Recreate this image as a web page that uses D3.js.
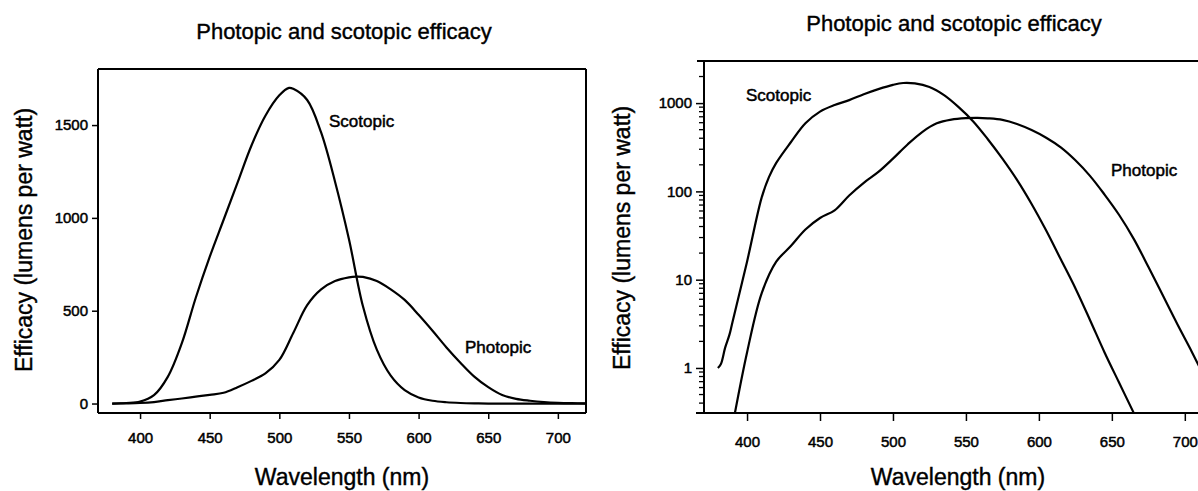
<!DOCTYPE html>
<html>
<head>
<meta charset="utf-8">
<script src="https://cdnjs.cloudflare.com/ajax/libs/d3/7.8.5/d3.min.js"></script>
<style>
  html, body { margin: 0; padding: 0; background: #fff; }
  svg { display: block; font-family: "Liberation Sans", Arial, sans-serif; }
</style>
</head>
<body>
<svg id="chart" width="1198" height="491"></svg>
<script>
// [wavelength nm, efficacy lm/W]
var scotopicLinear = [[380,0],[390,3],[400,10],[410,45],[420,145],[430,325],[440,570],[450,790],
    [460,990],[470,1190],[480,1390],[490,1550],[500,1660],[507,1700],[510,1695],[520,1635],
    [530,1460],[540,1195],[550,885],[560,525],[570,290],[580,150],[590,72],[600,33],[610,15],
    [620,7],[630,3],[640,1],[650,0],[700,0],[720,0]];
var photopicLinear = [[380,0],[390,1],[400,3],[410,8],[420,18],[430,27],[440,37],[450,47],
    [460,58],[470,88],[480,122],[490,162],[500,235],[510,380],[520,530],[530,615],[540,660],
    [550,680],[555,684],[560,682],[570,660],[580,615],[590,558],[600,478],[610,392],[620,302],
    [630,220],[640,145],[650,88],[660,46],[670,25],[680,15],[690,8],[700,4],[710,2],[720,1]];

// same two curves
var scotopicLog = [[380,1.0],[382,1.1],[385,1.7],[388,2.4],[390,3.3],[400,16],[410,85],[415,145],
    [420,210],[430,360],[440,590],[450,800],[460,950],[470,1080],[480,1260],[490,1440],[500,1610],
    [507,1690],[515,1670],[525,1520],[535,1230],[545,900],[555,620],[565,390],[575,235],[585,135],
    [595,72],[605,36],[615,17],[625,8],[635,3.5],[645,1.5],[655,0.68],[665,0.31],[670,0.21]];
var photopicLog = [[390,0.22],[400,1.5],[410,7],[420,16],[430,24],[440,37],[450,50],[460,61],
    [470,90],[480,125],[490,166],[500,235],[510,340],[520,470],[530,590],[540,650],[550,675],
    [558,680],[565,672],[575,645],[585,580],[595,495],[605,405],[615,315],[625,225],[635,150],
    [645,92],[655,54],[665,29],[675,14],[685,6.6],[695,3.1],[705,1.5],[715,0.7]];

var xTicks = [400, 450, 500, 550, 600, 650, 700];
var linTicks = [0, 500, 1000, 1500];
var logTicks = [1, 10, 100, 1000];
var titleText = 'Photopic and scotopic efficacy';
var xTitle = 'Wavelength (nm)';
var yTitle = 'Efficacy (lumens per watt)';

var svg = d3.select('#chart');

function drawPanel(p) {
    var g = svg.append('g');
    var x = d3.scaleLinear().domain(p.xDomain).range([p.left, p.right]);
    var y = p.log
        ? d3.scaleLog().domain(p.yDomain).range([p.bottom, p.top])
        : d3.scaleLinear().domain(p.yDomain).range([p.bottom, p.top]);

    var clipId = 'clip' + p.id;
    svg.append('clipPath').attr('id', clipId)
        .append('rect')
        .attr('x', p.left).attr('y', p.top)
        .attr('width', p.right - p.left).attr('height', p.bottom - p.top);

    var line = d3.line()
        .x(function(d) { return x(d[0]); })
        .y(function(d) { return y(d[1]); })
        .curve(d3.curveCatmullRom.alpha(0.5));

    g.append('g').attr('clip-path', 'url(#' + clipId + ')')
        .selectAll('path')
        .data(p.series)
        .enter().append('path')
        .attr('d', function(d) { return line(d); })
        .attr('fill', 'none')
        .attr('stroke', '#000')
        .attr('stroke-width', 2.2);

    var xAxis = g.append('g')
        .attr('transform', 'translate(0,' + p.bottom + ')')
        .call(d3.axisBottom(x).tickValues(xTicks).tickSize(p.xTick).tickSizeOuter(0).tickPadding(p.xPad));
    var yAxis = g.append('g')
        .attr('transform', 'translate(' + p.left + ',0)')
        .call(d3.axisLeft(y).tickValues(p.yTicks).tickSize(p.yTick).tickSizeOuter(0).tickPadding(4)
            .tickFormat(d3.format('d')));

    if (p.log) {
        // minor ticks 2..9 of every decade
        var minor = [];
        [0.1, 1, 10, 100, 1000].forEach(function(dec) {
            for (var k = 2; k <= 9; k++) {
                var v = dec * k;
                if (v >= p.yDomain[0] && v <= p.yDomain[1]) minor.push(v);
            }
        });
        g.append('g').selectAll('line')
            .data(minor)
            .enter().append('line')
            .attr('x1', p.left - 5).attr('x2', p.left)
            .attr('y1', function(d) { return y(d); })
            .attr('y2', function(d) { return y(d); })
            .attr('stroke', '#000')
            .attr('stroke-width', 1.3);
    }

    [xAxis, yAxis].forEach(function(a) {
        a.select('.domain').remove();
        a.selectAll('line').attr('stroke', '#000').attr('stroke-width', 1.5);
        a.selectAll('text').attr('fill', '#000').style('font-size', '15px')
            .style('font-family', '"Liberation Sans", Arial, sans-serif')
            .attr('stroke', '#000').attr('stroke-width', 0.5);
    });

    p.frame.forEach(function(f) {
        g.append('line')
            .attr('x1', f[0]).attr('y1', f[1]).attr('x2', f[2]).attr('y2', f[3])
            .attr('stroke', '#000').attr('stroke-width', 2);
    });

    g.append('text')
        .attr('x', p.titleX).attr('y', p.titleY)
        .attr('text-anchor', 'middle')
        .attr('stroke', '#000').attr('stroke-width', 0.4)
        .style('font-size', '22px')
        .text(titleText);

    g.append('text')
        .attr('x', p.xTitleX).attr('y', 485)
        .attr('text-anchor', 'middle')
        .attr('stroke', '#000').attr('stroke-width', 0.4)
        .style('font-size', '23px')
        .text(xTitle);

    g.append('text')
        .attr('transform', 'translate(' + p.yTitleX + ',' + p.yTitleY + ') rotate(-90)')
        .attr('text-anchor', 'middle')
        .attr('stroke', '#000').attr('stroke-width', 0.4)
        .style('font-size', '23px')
        .text(yTitle);

    g.selectAll('text.curve-label')
        .data(p.labels)
        .enter().append('text')
        .attr('class', 'curve-label')
        .attr('x', function(d) { return d.x; })
        .attr('y', function(d) { return d.y; })
        .attr('stroke', '#000').attr('stroke-width', 0.5)
        .style('font-size', '17px')
        .text(function(d) { return d.text; });
}

drawPanel({
    id: 'lin', log: false,
    left: 98, right: 586, top: 69, bottom: 413,
    xDomain: [369.8, 720.2], yDomain: [-51, 1802],
    yTicks: linTicks, xTick: 6, yTick: 6, xPad: 13,
    series: [scotopicLinear, photopicLinear],
    frame: [[98, 69, 586, 69], [586, 69, 586, 413], [98, 413, 586, 413], [98, 69, 98, 413]],
    titleX: 344, titleY: 39, xTitleX: 342,
    yTitleX: 32, yTitleY: 240,
    labels: [{text: 'Scotopic', x: 329, y: 127}, {text: 'Photopic', x: 465, y: 353}]
});

drawPanel({
    id: 'log', log: true,
    left: 704, right: 1214, top: 61, bottom: 413,
    xDomain: [370.5, 720], yDomain: [0.309, 2998],
    yTicks: logTicks, xTick: 8, yTick: 8, xPad: 15,
    series: [scotopicLog, photopicLog],
    frame: [[697, 61, 1198, 61], [704, 61, 704, 413], [696, 413, 1198, 413]],
    titleX: 954, titleY: 31, xTitleX: 958,
    yTitleX: 630, yTitleY: 238,
    labels: [{text: 'Scotopic', x: 746, y: 101}, {text: 'Photopic', x: 1111, y: 176}]
});
</script>
</body>
</html>
